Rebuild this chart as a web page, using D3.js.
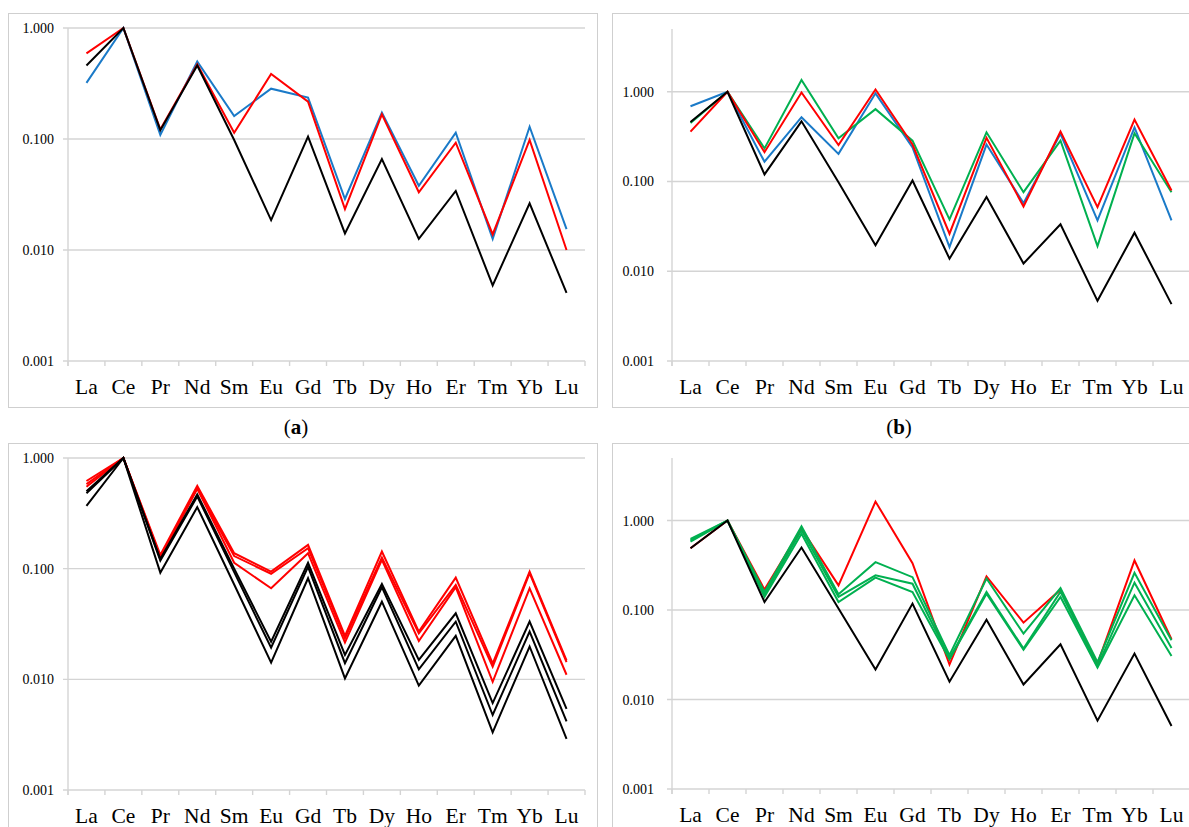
<!DOCTYPE html>
<html>
<head>
<meta charset="utf-8">
<script src="https://cdn.jsdelivr.net/npm/d3@7"></script>
<style>
  html, body { margin: 0; padding: 0; background: #fff; }
  svg { display: block; }
</style>
</head>
<body>
<svg id="chart" width="1189" height="827"></svg>
<script>
// Chondrite-normalised REE patterns (values relative to Ce)
const elements = ["La","Ce","Pr","Nd","Sm","Eu","Gd","Tb","Dy","Ho","Er","Tm","Yb","Lu"];
const yTicks = [0.001, 0.01, 0.1, 1];
const yTickLabels = ["0.001", "0.010", "0.100", "1.000"];

// (a)
const aBlue  = [0.32, 1, 0.109, 0.50, 0.161, 0.284, 0.236, 0.0288, 0.173, 0.0379, 0.114, 0.0126, 0.129, 0.0154];
const aRed   = [0.59, 1, 0.122, 0.47, 0.114, 0.385, 0.217, 0.0234, 0.167, 0.0331, 0.0927, 0.0138, 0.098, 0.0100];
const aBlack = [0.46, 1, 0.120, 0.46, 0.098, 0.0186, 0.105, 0.0141, 0.066, 0.0126, 0.034, 0.0048, 0.0263, 0.0041];

// (b)
const bBlue  = [0.69, 1, 0.166, 0.52, 0.203, 0.96, 0.240, 0.0186, 0.258, 0.0574, 0.339, 0.0369, 0.400, 0.0369];
const bGreen = [0.45, 1, 0.234, 1.35, 0.303, 0.64, 0.285, 0.0378, 0.353, 0.0760, 0.285, 0.0191, 0.344, 0.0760];
const bRed   = [0.36, 1, 0.212, 0.98, 0.255, 1.06, 0.258, 0.0262, 0.306, 0.0527, 0.360, 0.0518, 0.489, 0.0794];
const bBlack = [0.46, 1, 0.120, 0.468, 0.098, 0.0195, 0.1026, 0.0138, 0.067, 0.0122, 0.0333, 0.00468, 0.0269, 0.0043];

// (c)
const cRed1   = [0.62, 1, 0.133, 0.56, 0.138, 0.094, 0.164, 0.0247, 0.143, 0.0270, 0.0830, 0.0139, 0.094, 0.0148];
const cRed2   = [0.58, 1, 0.128, 0.53, 0.130, 0.090, 0.153, 0.0235, 0.126, 0.0260, 0.0713, 0.0130, 0.091, 0.0143];
const cRed3   = [0.55, 1, 0.124, 0.53, 0.113, 0.0665, 0.138, 0.0215, 0.120, 0.0222, 0.0680, 0.0095, 0.0665, 0.0110];
const cBlack1 = [0.50, 1, 0.122, 0.47, 0.100, 0.0219, 0.113, 0.0166, 0.0728, 0.0150, 0.0395, 0.0061, 0.0333, 0.0054];
const cBlack2 = [0.48, 1, 0.118, 0.45, 0.093, 0.0193, 0.104, 0.0140, 0.0680, 0.0123, 0.0332, 0.00476, 0.0270, 0.00416];
const cBlack3 = [0.37, 1, 0.092, 0.36, 0.072, 0.01415, 0.0819, 0.0102, 0.0503, 0.00877, 0.0247, 0.00332, 0.0198, 0.0029];

// (d)
const dRed    = [0.49, 1, 0.169, 0.81, 0.189, 1.63, 0.334, 0.0246, 0.238, 0.0723, 0.169, 0.0252, 0.358, 0.0472];
const dGreen1 = [0.625, 1, 0.159, 0.86, 0.150, 0.343, 0.233, 0.0313, 0.225, 0.0545, 0.176, 0.0262, 0.261, 0.0460];
const dGreen2 = [0.60, 1, 0.150, 0.78, 0.140, 0.244, 0.197, 0.0289, 0.159, 0.0370, 0.160, 0.0235, 0.202, 0.0377];
const dGreen3 = [0.58, 1, 0.140, 0.71, 0.123, 0.230, 0.159, 0.0280, 0.152, 0.0360, 0.140, 0.0228, 0.146, 0.0307];
const dBlack  = [0.49, 1, 0.123, 0.50, 0.104, 0.0216, 0.118, 0.0158, 0.078, 0.0147, 0.0415, 0.0058, 0.0326, 0.00505];

const RED = "#ff0000", BLUE = "#1a7ac8", GREEN = "#00b050", BLACK = "#000000";
const SERIF = "'Liberation Serif', 'Times New Roman', serif";

const panels = [
  { frame: [8, 13, 589, 394], x0: 68, x1: 585, yTop: 28, yBot: 361, yMax: 1, labelGap: 14,
    series: [[aBlue, BLUE], [aRed, RED], [aBlack, BLACK]] },
  { frame: [612, 13, 600, 394], x0: 672, x1: 1190, yTop: 29, yBot: 361, yMax: 5, labelGap: 18,
    series: [[bBlue, BLUE], [bGreen, GREEN], [bRed, RED], [bBlack, BLACK]] },
  { frame: [8, 443, 589, 400], x0: 68, x1: 585, yTop: 458, yBot: 790, yMax: 1, labelGap: 14,
    series: [[cRed3, RED], [cRed2, RED], [cRed1, RED], [cBlack3, BLACK], [cBlack2, BLACK], [cBlack1, BLACK]] },
  { frame: [612, 443, 600, 400], x0: 672, x1: 1190, yTop: 458, yBot: 789, yMax: 5, labelGap: 18,
    series: [[dRed, RED], [dGreen3, GREEN], [dGreen2, GREEN], [dGreen1, GREEN], [dBlack, BLACK]] }
];

const svg = d3.select("#chart");
const gridColor = "#d4d4d4";

panels.forEach(p => {
  const g = svg.append("g");

  g.append("rect")
    .attr("x", p.frame[0] + 0.5).attr("y", p.frame[1] + 0.5)
    .attr("width", p.frame[2]).attr("height", p.frame[3])
    .attr("fill", "none").attr("stroke", "#cfcfcf").attr("stroke-width", 1);

  const x = d3.scaleBand().domain(elements).range([p.x0, p.x1]).padding(0);
  const y = d3.scaleLog().domain([0.001, p.yMax]).range([p.yBot, p.yTop]);

  // horizontal gridlines (with short outward ticks)
  g.selectAll(".grid").data(yTicks).join("line")
    .attr("x1", p.x0 - 5).attr("x2", p.x1)
    .attr("y1", d => y(d)).attr("y2", d => y(d))
    .attr("stroke", gridColor).attr("stroke-width", 1.4);

  // vertical value axis line
  g.append("line")
    .attr("x1", p.x0).attr("x2", p.x0)
    .attr("y1", p.yTop).attr("y2", p.yBot + 5)
    .attr("stroke", gridColor).attr("stroke-width", 1.4);

  // category tick marks between elements
  const bounds = d3.range(elements.length + 1).map(i => p.x0 + i * x.step());
  g.selectAll(".ctick").data(bounds).join("line")
    .attr("x1", d => d).attr("x2", d => d)
    .attr("y1", p.yBot).attr("y2", p.yBot + 5)
    .attr("stroke", gridColor).attr("stroke-width", 1.4);

  // value labels
  const yAxis = d3.axisLeft(y).tickValues(yTicks)
    .tickFormat((d, i) => yTickLabels[i]).tickSize(0).tickPadding(p.labelGap);
  const ya = g.append("g").attr("transform", `translate(${p.x0},0)`).call(yAxis);
  ya.attr("font-family", null).attr("font-size", null);
  ya.select(".domain").remove();
  ya.selectAll("text").style("font-family", SERIF).style("font-size", "14px").attr("fill", "#000");

  // element labels
  const xAxis = d3.axisBottom(x).tickSize(0).tickPadding(0);
  const xa = g.append("g").attr("transform", `translate(0,${p.yBot})`).call(xAxis);
  xa.attr("font-family", null).attr("font-size", null);
  xa.select(".domain").remove();
  xa.selectAll("text").style("font-family", SERIF).style("font-size", "21.5px")
    .attr("fill", "#000").attr("dy", null).attr("y", 33);

  // series
  const line = d3.line()
    .x((d, i) => x(elements[i]) + x.bandwidth() / 2)
    .y(d => y(d));
  p.series.forEach(([vals, col]) => {
    g.append("path").datum(vals)
      .attr("d", line)
      .attr("fill", "none").attr("stroke", col)
      .attr("stroke-width", 2).attr("stroke-linejoin", "miter");
  });
});

// panel captions
[["a", 296], ["b", 899]].forEach(([t, cx]) => {
  const txt = svg.append("text").attr("x", cx).attr("y", 434)
    .attr("text-anchor", "middle")
    .style("font-family", SERIF).style("font-size", "21px");
  txt.append("tspan").text("(");
  txt.append("tspan").attr("font-weight", "bold").text(t);
  txt.append("tspan").text(")");
});
</script>
</body>
</html>
